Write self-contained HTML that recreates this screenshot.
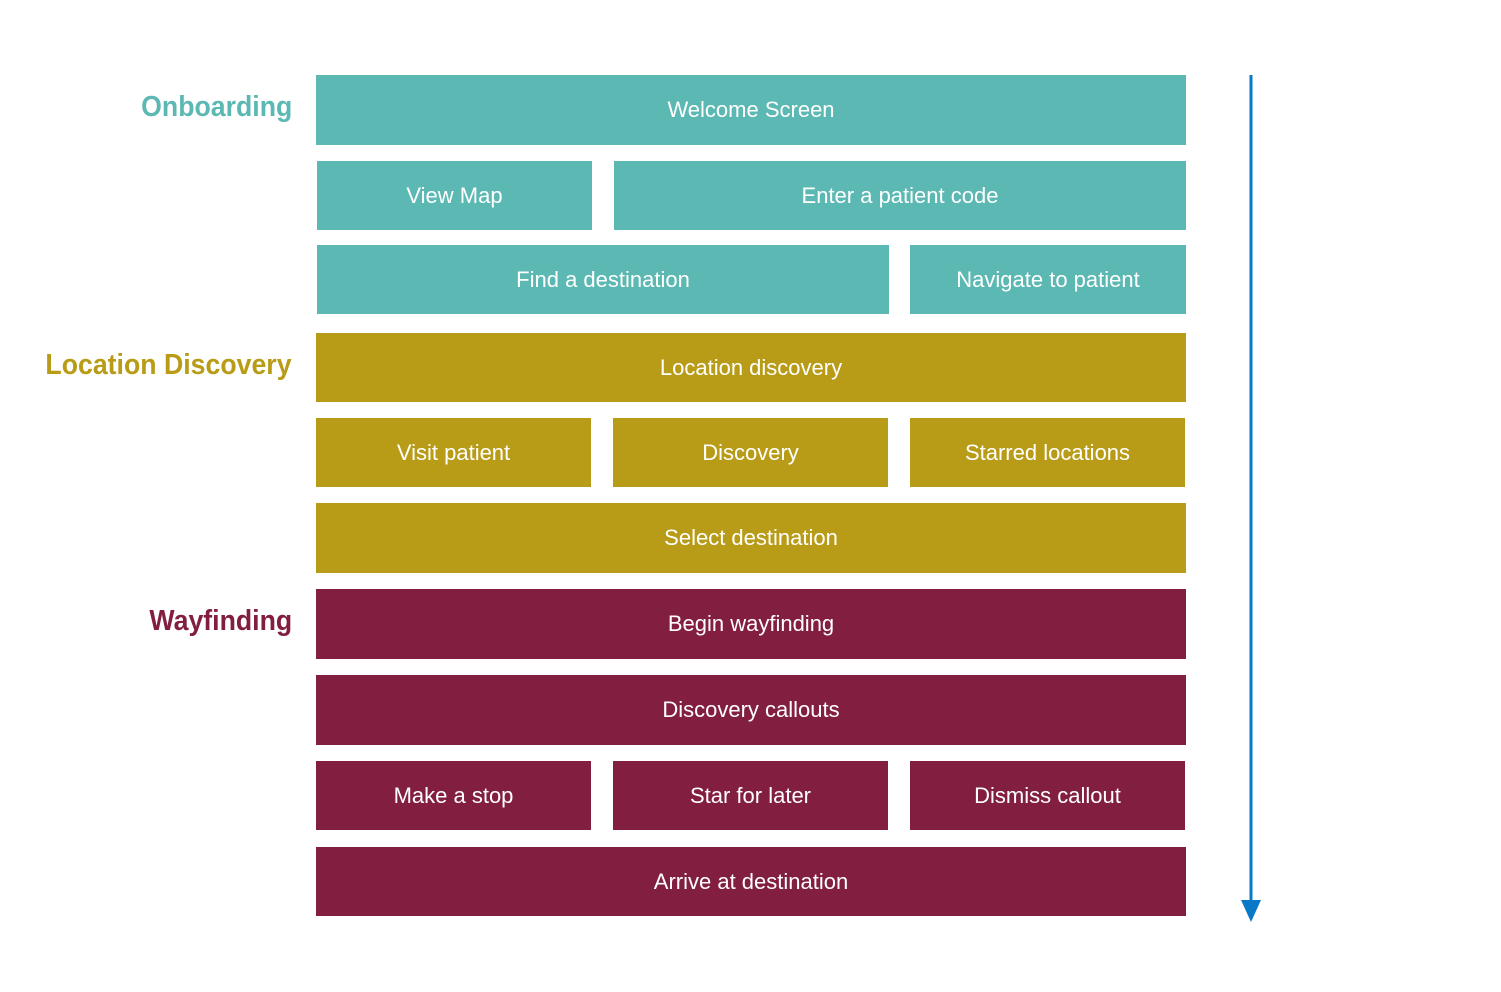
<!DOCTYPE html>
<html><head><meta charset="utf-8"><style>
body{margin:0;width:1501px;height:992px;background:#fff;position:relative;overflow:hidden;font-family:"Liberation Sans",sans-serif}
.b{position:absolute;color:#fff;font-size:22px;display:flex;align-items:center;justify-content:center;height:69px}
.t{background:#5cb8b3}.g{background:#b89c17}.m{background:#821e40}
.l{position:absolute;right:1209px;font-size:29px;white-space:nowrap;font-weight:bold;transform:scaleX(0.92);transform-origin:right center}
</style></head><body>
<div class="l" style="top:91px;color:#5cb8b3">Onboarding</div>
<div class="l" style="top:349px;color:#b89c17">Location Discovery</div>
<div class="l" style="top:605px;color:#821e40">Wayfinding</div>

<div class="b t" style="left:316px;top:75px;width:870px;height:70px">Welcome Screen</div>
<div class="b t" style="left:317px;top:161px;width:275px">View Map</div>
<div class="b t" style="left:614px;top:161px;width:572px">Enter a patient code</div>
<div class="b t" style="left:317px;top:245px;width:572px">Find a destination</div>
<div class="b t" style="left:910px;top:245px;width:276px">Navigate to patient</div>

<div class="b g" style="left:316px;top:333px;width:870px">Location discovery</div>
<div class="b g" style="left:316px;top:418px;width:275px">Visit patient</div>
<div class="b g" style="left:613px;top:418px;width:275px">Discovery</div>
<div class="b g" style="left:910px;top:418px;width:275px">Starred locations</div>
<div class="b g" style="left:316px;top:503px;width:870px;height:70px">Select destination</div>

<div class="b m" style="left:316px;top:589px;width:870px;height:70px">Begin wayfinding</div>
<div class="b m" style="left:316px;top:675px;width:870px;height:70px">Discovery callouts</div>
<div class="b m" style="left:316px;top:761px;width:275px">Make a stop</div>
<div class="b m" style="left:613px;top:761px;width:275px">Star for later</div>
<div class="b m" style="left:910px;top:761px;width:275px">Dismiss callout</div>
<div class="b m" style="left:316px;top:847px;width:870px">Arrive at destination</div>

<svg style="position:absolute;left:0;top:0" width="1501" height="992">
<line x1="1251" y1="75" x2="1251" y2="902" stroke="#0a78c8" stroke-width="3"/>
<polygon points="1241,900 1261,900 1251,922" fill="#0a78c8"/>
</svg>
</body></html>
